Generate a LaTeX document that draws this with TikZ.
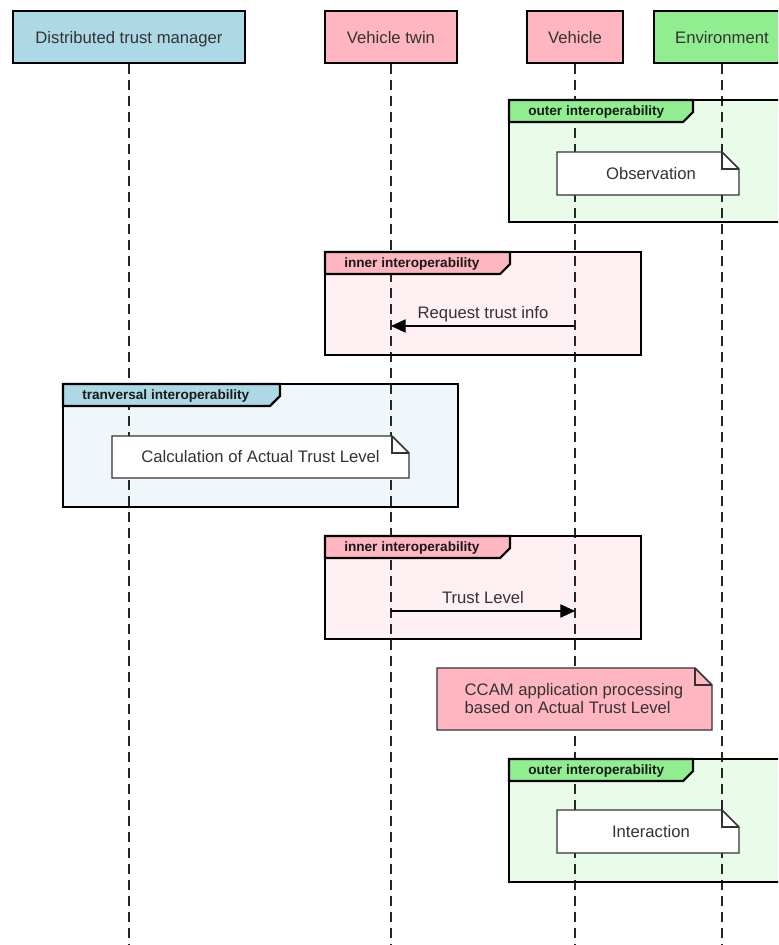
\documentclass[tikz,border=0pt]{standalone}
\usepackage{fontspec}
\setmainfont{Liberation Sans}
\usetikzlibrary{arrows.meta}
\definecolor{dtmblue}{HTML}{ADD8E6}
\definecolor{twinpink}{HTML}{FFB6C1}
\definecolor{envgreen}{HTML}{90EE90}
\definecolor{txt}{HTML}{333333}

% note with a folded top-right corner: name, x1, y1, x2, y2, fill
\newcommand{\foldnote}[6]{%
  \draw[noteshape, fill=#6] (#2,#3) -- ({#4-17},#3) -- (#4,{#3+17}) -- (#4,#5) -- (#2,#5) -- cycle;
  \draw[noteshape] ({#4-17},#3) -- ({#4-17},{#3+17}) -- (#4,{#3+17});
  \coordinate (#1) at ({(#2+#4)/2},{(#3+#5)/2});}

% combined-fragment frame: x1, y1, x2, y2, tab right x, tab fill
\newcommand{\fragframe}[6]{%
  \draw[framebody] (#1,#2) rectangle (#3,#4);
  \draw[framebody, fill=#6] (#1,#2) -- (#5,#2) -- (#5,{#2+12}) -- ({#5-10},{#2+22}) -- (#1,{#2+22}) -- cycle;}

\begin{document}
\begin{tikzpicture}[x=0.75pt,y=-0.75pt,
  every node/.style={font=\fontsize{12.5}{13.5}\selectfont, text=txt},
  actor/.style={draw=black, line width=2.2pt, inner sep=0pt, minimum height=39pt,
    text height=10.5pt, text depth=0pt},
  lifeline/.style={draw=black!85, line width=1pt, dash pattern=on 7.5pt off 4.5pt},
  framebody/.style={draw=black, line width=1.6pt},
  tablabel/.style={font=\fontsize{10.2}{11}\bfseries\selectfont, text=black!90, inner sep=0pt,
    anchor=base west},
  noteshape/.style={draw=black!80, line width=1.1pt},
  msg/.style={draw=black, line width=0.8pt, -{Triangle[length=11pt,width=10pt]}},
  msglabel/.style={anchor=base, yshift=5.5pt},
]
\useasboundingbox (0,0) rectangle (778,945);
\clip (0,0) rectangle (778,945);

% participants
\node[actor, fill=dtmblue, minimum width=174pt] (dtm) at (129,37) {Distributed trust manager};
\node[actor, fill=twinpink, minimum width=99pt] (twin) at (391,37) {Vehicle twin};
\node[actor, fill=twinpink, minimum width=72pt] (veh) at (575,37) {Vehicle};
\node[actor, fill=envgreen, minimum width=102pt] (env) at (722,37) {Environment};
\coordinate (floor) at (0,945);

% fragment backgrounds
\fill[envgreen!20] (509,100) rectangle (790,222);
\fill[twinpink!20] (325,252) rectangle (641,355);
\fill[dtmblue!20] (63,384) rectangle (458,507);
\fill[twinpink!20] (325,536) rectangle (641,639);
\fill[envgreen!20] (509,759) rectangle (790,882);

% lifelines
\foreach \p in {dtm,twin,veh,env}
  \draw[lifeline] (\p.south) -- (\p.south |- floor);

% fragment frames and their tabs
\fragframe{509}{100}{790}{222}{693}{envgreen}
\node[tablabel] (f1) at (528,115.5) {outer interoperability};
\fragframe{325}{252}{641}{355}{510}{twinpink}
\node[tablabel] (f2) at (344,267.5) {inner interoperability};
\fragframe{63}{384}{458}{507}{280}{dtmblue}
\node[tablabel] (f3) at (82,399.5) {tranversal interoperability};
\fragframe{325}{536}{641}{639}{510}{twinpink}
\node[tablabel] (f4) at (344,551.5) {inner interoperability};
\fragframe{509}{759}{790}{882}{693}{envgreen}
\node[tablabel] (f5) at (528,774.5) {outer interoperability};

% notes
\foldnote{obs}{557}{152}{739}{195}{white}
\node (obstext) at ([xshift=2.25pt]obs) {Observation};
\foldnote{calc}{112}{436}{409}{478}{white}
\node (calctext) at (calc) {Calculation of Actual Trust Level};
\foldnote{ccam}{437}{668}{712}{730}{twinpink}
\node[align=left] (ccamtext) at (574,699) {CCAM application processing\\based on Actual Trust Level};
\foldnote{inter}{557}{810}{739}{853}{white}
\node (intertext) at ([xshift=2.25pt]inter) {Interaction};

% messages
\coordinate (reqfrom) at (veh.south |- 0,326);
\coordinate (reqto) at (twin.south |- 0,326);
\draw[msg] (reqfrom) -- node[msglabel] (reqlabel) {Request trust info} (reqto);
\coordinate (tlfrom) at (twin.south |- 0,611);
\coordinate (tlto) at (veh.south |- 0,611);
\draw[msg] (tlfrom) -- node[msglabel] (tllabel) {Trust Level} (tlto);
\end{tikzpicture}
\end{document}
